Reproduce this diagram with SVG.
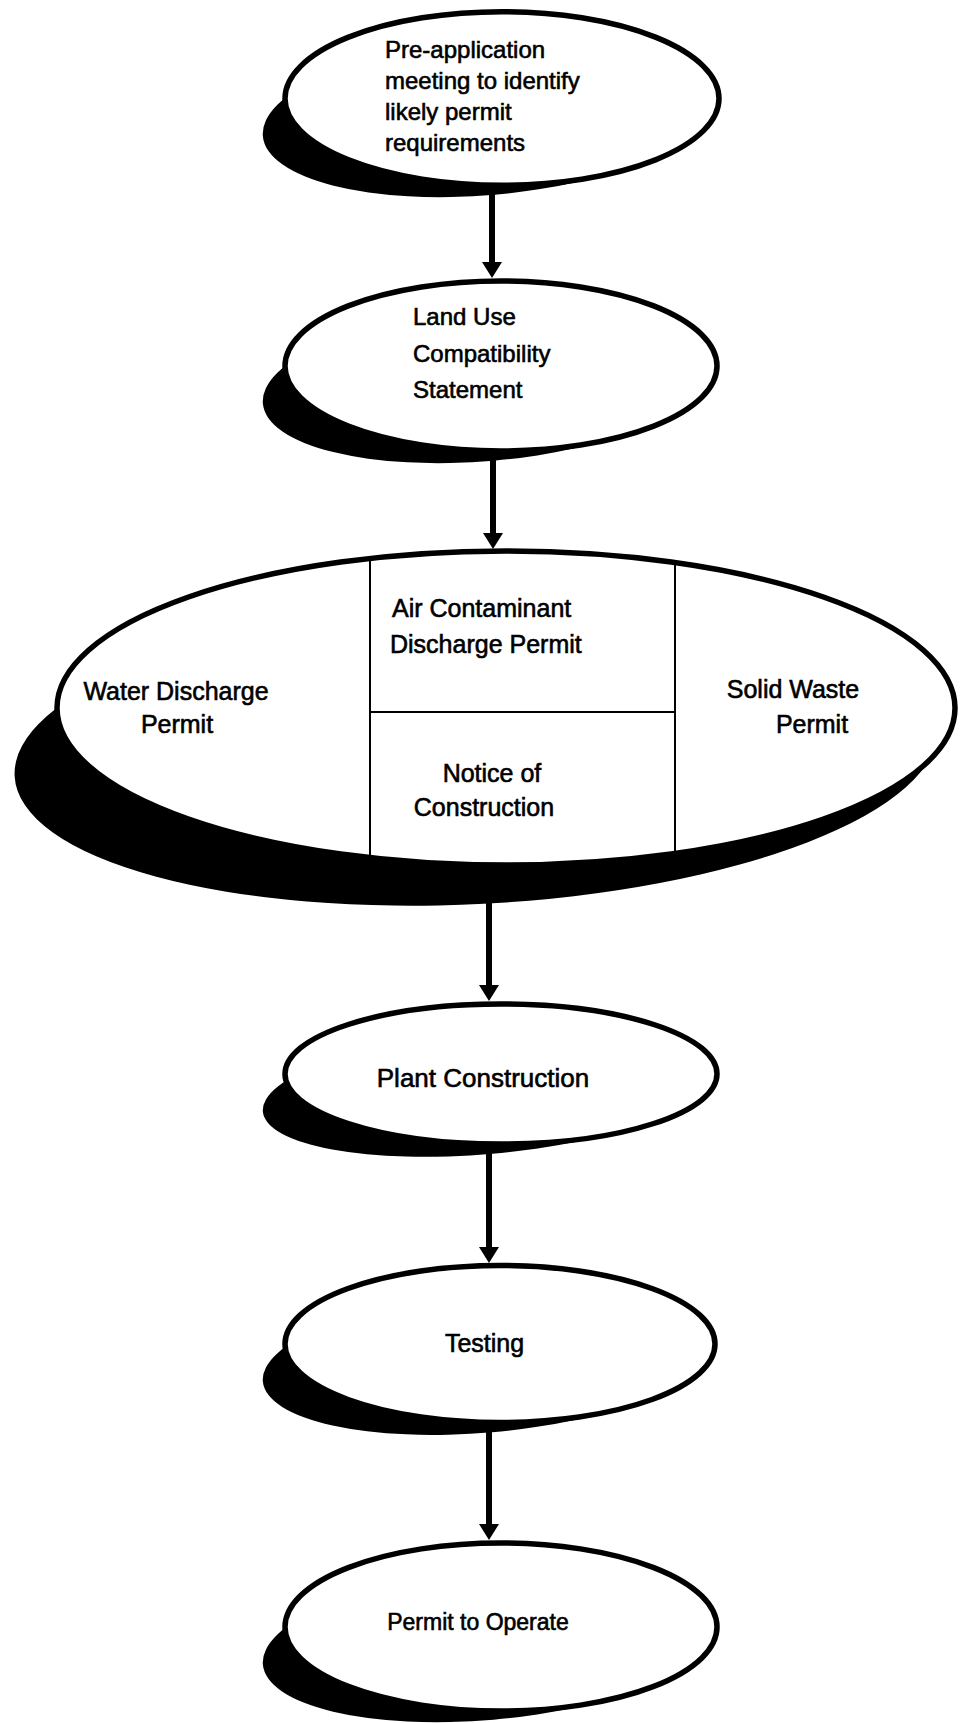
<svg xmlns="http://www.w3.org/2000/svg" width="960" height="1723" viewBox="0 0 960 1723">
  <style>
    .shadow { fill: #000; }
    .face { fill: #fff; stroke: none; }
    .rim { fill: none; stroke: #000; stroke-width: 5.5; }
    .lbl { font-family: "Liberation Sans", Arial, sans-serif; font-size: 25px; fill: #000; stroke: #000; stroke-width: 0.6; }
    .sm { font-size: 24px; }
    .mid { text-anchor: middle; }
    .divider { stroke: #000; stroke-width: 2; }
    .conn line { stroke: #000; stroke-width: 6; }
  </style>
  <defs>
    <marker id="head" viewBox="0 0 16 20" markerWidth="16" markerHeight="20" refX="6" refY="10" markerUnits="userSpaceOnUse" orient="auto">
      <path d="M0,0 L16,10 L0,20 Z" fill="#000"/>
    </marker>
    <clipPath id="bigClip">
      <ellipse cx="506" cy="708" rx="449" ry="157"/>
    </clipPath>
  </defs>

  <rect width="960" height="1723" fill="#fff"/>

  <!-- step 1 -->
  <g id="preapplication">
    <ellipse class="shadow" cx="488" cy="116.5" rx="226" ry="78.5" transform="rotate(-5 488 116.5)"/>
    <ellipse class="face" cx="502" cy="98.5" rx="217" ry="86.75"/>
    <ellipse class="rim" cx="502" cy="98.5" rx="217" ry="86.75"/>
    <text class="lbl sm" x="385" y="58">Pre-application</text>
    <text class="lbl sm" x="385" y="89">meeting to identify</text>
    <text class="lbl sm" x="385" y="120">likely permit</text>
    <text class="lbl sm" x="385" y="151">requirements</text>
  </g>

  <!-- step 2 -->
  <g id="landuse">
    <ellipse class="shadow" cx="487" cy="384" rx="225" ry="77" transform="rotate(-5 487 384)"/>
    <ellipse class="face" cx="501" cy="366" rx="216" ry="85"/>
    <ellipse class="rim" cx="501" cy="366" rx="216" ry="85"/>
    <text class="lbl sm" x="413" y="325">Land Use</text>
    <text class="lbl sm" x="413" y="362">Compatibility</text>
    <text class="lbl sm" x="413" y="398">Statement</text>
  </g>

  <!-- step 3: the permit applications, split into four panels -->
  <g id="permits">
    <ellipse class="shadow" cx="476" cy="752" rx="462" ry="152" transform="rotate(-3 476 752)"/>
    <ellipse class="face" cx="506" cy="708" rx="449" ry="157"/>
    <g clip-path="url(#bigClip)">
      <line class="divider" x1="370" y1="540" x2="370" y2="880"/>
      <line class="divider" x1="675" y1="540" x2="675" y2="880"/>
      <line class="divider" x1="370" y1="712" x2="675" y2="712"/>
    </g>
    <ellipse class="rim" cx="506" cy="708" rx="449" ry="157"/>
    <text class="lbl mid" x="176" y="700">Water Discharge</text>
    <text class="lbl mid" x="177" y="733">Permit</text>
    <text class="lbl" x="392" y="617">Air Contaminant</text>
    <text class="lbl" x="390" y="653">Discharge Permit</text>
    <text class="lbl mid" x="492" y="782">Notice of</text>
    <text class="lbl mid" x="484" y="816">Construction</text>
    <text class="lbl mid" x="793" y="698">Solid Waste</text>
    <text class="lbl mid" x="812" y="733">Permit</text>
  </g>

  <!-- step 4 -->
  <g id="construction">
    <ellipse class="shadow" cx="487" cy="1092" rx="225" ry="62" transform="rotate(-5 487 1092)"/>
    <ellipse class="face" cx="501" cy="1074" rx="216" ry="70"/>
    <ellipse class="rim" cx="501" cy="1074" rx="216" ry="70"/>
    <text class="lbl mid" x="483" y="1087" style="font-size:26px">Plant Construction</text>
  </g>

  <!-- step 5 -->
  <g id="testing">
    <ellipse class="shadow" cx="486" cy="1362" rx="224" ry="70.5" transform="rotate(-5 486 1362)"/>
    <ellipse class="face" cx="500" cy="1344" rx="215" ry="78.5"/>
    <ellipse class="rim" cx="500" cy="1344" rx="215" ry="78.5"/>
    <text class="lbl mid" x="484.5" y="1352">Testing</text>
  </g>

  <!-- step 6 -->
  <g id="operate">
    <ellipse class="shadow" cx="487" cy="1645" rx="225" ry="75" transform="rotate(-5 487 1645)"/>
    <ellipse class="face" cx="501" cy="1627" rx="216" ry="84"/>
    <ellipse class="rim" cx="501" cy="1627" rx="216" ry="84"/>
    <text class="lbl mid" x="478" y="1630" style="font-size:23px">Permit to Operate</text>
  </g>

  <!-- flow arrows -->
  <g id="connectors" class="conn">
    <line x1="492" y1="194" x2="492" y2="268" marker-end="url(#head)"/>
    <line x1="493" y1="458" x2="493" y2="539" marker-end="url(#head)"/>
    <line x1="489" y1="900" x2="489" y2="991" marker-end="url(#head)"/>
    <line x1="489" y1="1150" x2="489" y2="1253" marker-end="url(#head)"/>
    <line x1="489" y1="1430" x2="489" y2="1530" marker-end="url(#head)"/>
  </g>
</svg>
